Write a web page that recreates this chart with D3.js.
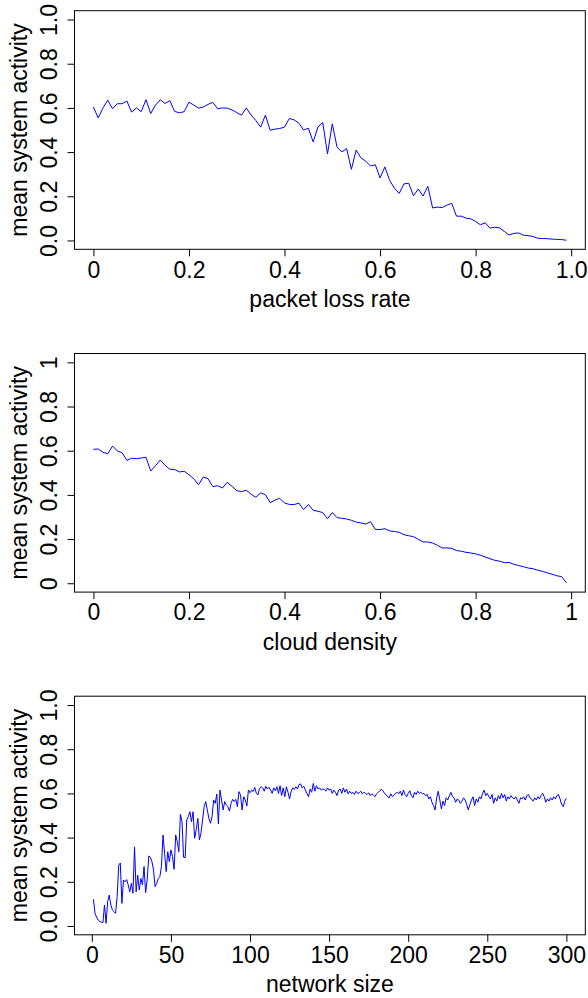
<!DOCTYPE html>
<html><head><meta charset="utf-8">
<script src="https://cdn.jsdelivr.net/npm/d3@7"></script>
<style>body{margin:0;background:#fff}svg{display:block}</style>
</head><body>
<script>
// ---------- data ----------
const lossRate = d3.range(100).map(i => i / 100);
const lossActivity = [
 0.604,0.555,0.600,0.635,0.596,0.619,0.619,0.631,0.581,0.600,
 0.583,0.637,0.575,0.613,0.637,0.620,0.633,0.584,0.578,0.583,
 0.626,0.613,0.599,0.604,0.616,0.625,0.596,0.600,0.599,0.591,
 0.579,0.567,0.600,0.568,0.543,0.513,0.567,0.499,0.504,0.507,
 0.513,0.552,0.546,0.531,0.500,0.508,0.446,0.514,0.534,0.392,
 0.528,0.422,0.401,0.416,0.322,0.409,0.374,0.359,0.337,0.343,
 0.283,0.333,0.272,0.237,0.213,0.256,0.259,0.202,0.233,0.201,
 0.245,0.147,0.151,0.149,0.160,0.168,0.110,0.110,0.101,0.098,
 0.086,0.071,0.080,0.056,0.060,0.057,0.041,0.025,0.032,0.034,
 0.024,0.022,0.018,0.010,0.009,0.008,0.006,0.005,0.004,0.001
];
const cloudDensity = d3.range(100).map(i => i / 100);
const densityActivity = [
 0.606,0.608,0.593,0.586,0.621,0.599,0.591,0.556,0.566,0.564,
 0.567,0.570,0.508,0.532,0.558,0.534,0.516,0.515,0.504,0.507,
 0.491,0.473,0.446,0.481,0.473,0.437,0.442,0.431,0.457,0.439,
 0.419,0.415,0.421,0.403,0.389,0.409,0.401,0.365,0.376,0.385,
 0.363,0.357,0.356,0.363,0.333,0.357,0.330,0.326,0.320,0.292,
 0.320,0.297,0.294,0.291,0.285,0.277,0.273,0.268,0.279,0.244,
 0.243,0.247,0.237,0.234,0.231,0.220,0.215,0.211,0.199,0.187,
 0.187,0.182,0.172,0.160,0.160,0.158,0.148,0.145,0.140,0.137,
 0.133,0.127,0.119,0.111,0.104,0.100,0.093,0.094,0.086,0.080,
 0.075,0.069,0.066,0.059,0.054,0.047,0.041,0.034,0.030,0.003
];
const networkSize = d3.range(1, 301);
const sizeActivity = [
 0.121,0.057,0.040,0.027,0.020,0.017,0.015,0.095,0.012,0.110,
 0.140,0.095,0.072,0.065,0.057,0.133,0.275,0.285,0.102,0.208,
 0.200,0.210,0.186,0.155,0.193,0.148,0.358,0.155,0.230,0.163,
 0.215,0.186,0.269,0.151,0.208,0.317,0.311,0.291,0.253,0.178,
 0.193,0.215,0.223,0.269,0.412,0.329,0.246,0.336,0.291,0.344,
 0.314,0.256,0.412,0.382,0.336,0.505,0.472,0.311,0.309,0.480,
 0.495,0.517,0.472,0.517,0.397,0.435,0.487,0.389,0.420,0.480,
 0.540,0.563,0.525,0.487,0.465,0.495,0.570,0.555,0.597,0.462,
 0.615,0.570,0.525,0.563,0.548,0.540,0.520,0.555,0.573,0.563,
 0.573,0.540,0.608,0.593,0.525,0.585,0.570,0.543,0.615,0.603,
 0.615,0.608,0.627,0.600,0.593,0.623,0.630,0.625,0.610,0.632,
 0.620,0.628,0.615,0.600,0.625,0.612,0.630,0.600,0.635,0.590,
 0.625,0.585,0.630,0.605,0.575,0.610,0.625,0.618,0.630,0.620,
 0.640,0.643,0.625,0.632,0.615,0.600,0.585,0.620,0.605,0.645,
 0.610,0.635,0.620,0.625,0.615,0.620,0.618,0.610,0.625,0.615,
 0.620,0.600,0.615,0.605,0.590,0.615,0.620,0.600,0.625,0.605,
 0.620,0.598,0.610,0.600,0.605,0.595,0.610,0.600,0.603,0.610,
 0.598,0.605,0.600,0.595,0.603,0.590,0.598,0.592,0.585,0.598,
 0.605,0.610,0.620,0.612,0.600,0.595,0.585,0.580,0.598,0.585,
 0.592,0.600,0.605,0.598,0.610,0.590,0.615,0.595,0.585,0.600,
 0.612,0.590,0.580,0.605,0.595,0.610,0.600,0.605,0.598,0.600,
 0.590,0.595,0.575,0.585,0.560,0.545,0.525,0.580,0.610,0.570,
 0.530,0.565,0.545,0.580,0.570,0.590,0.605,0.585,0.580,0.560,
 0.575,0.570,0.555,0.565,0.580,0.570,0.550,0.525,0.550,0.570,
 0.585,0.545,0.575,0.560,0.585,0.575,0.600,0.615,0.590,0.600,
 0.585,0.575,0.595,0.555,0.580,0.565,0.590,0.575,0.600,0.580,
 0.595,0.565,0.585,0.575,0.590,0.580,0.575,0.585,0.570,0.555,
 0.580,0.575,0.585,0.570,0.590,0.595,0.580,0.575,0.565,0.580,
 0.570,0.585,0.575,0.590,0.600,0.585,0.560,0.575,0.565,0.580,
 0.570,0.585,0.575,0.590,0.595,0.575,0.550,0.540,0.565,0.578
];

const unitTicks = [0, 0.2, 0.4, 0.6, 0.8, 1];
const sizeTicks = [0, 50, 100, 150, 200, 250, 300];
const lossXLabels = ["0", "0.2", "0.4", "0.6", "0.8", "1.0"];
const densityXLabels = ["0", "0.2", "0.4", "0.6", "0.8", "1"];
const sizeXLabels = ["0", "50", "100", "150", "200", "250", "300"];
const yLabelsDecimal = ["0.0", "0.2", "0.4", "0.6", "0.8", "1.0"];
const yLabelsPlain = ["0", "0.2", "0.4", "0.6", "0.8", "1"];
const yTitle = "mean system activity";

// ---------- layout ----------
const W = 588, H = 998;
const LEFT = 74.5, RIGHT = 585.3, BOXH = 238.6;
const FONT = "'Liberation Sans', Arial, Helvetica, sans-serif";
const FS = 23;

const panels = [
  {x: lossRate, y: lossActivity, top: 10.7, xTicks: unitTicks, xLabels: lossXLabels, yLabels: yLabelsDecimal, xTitle: "packet loss rate"},
  {x: cloudDensity, y: densityActivity, top: 353.5, xTicks: unitTicks, xLabels: densityXLabels, yLabels: yLabelsPlain, xTitle: "cloud density"},
  {x: networkSize, y: sizeActivity, top: 696.2, xTicks: sizeTicks, xLabels: sizeXLabels, yLabels: yLabelsDecimal, xTitle: "network size"}
];

const svg = d3.select("body").append("svg").attr("width", W).attr("height", H)
  .style("font-family", FONT);

panels.forEach(p => {
  const bottom = p.top + BOXH;
  const [xmin, xmax] = d3.extent(p.x);
  const pad = 0.04 * (xmax - xmin);
  const xs = d3.scaleLinear().domain([xmin - pad, xmax + pad]).range([LEFT, RIGHT]);
  const ys = d3.scaleLinear().domain([-0.04, 1.04]).range([bottom, p.top]);
  const g = svg.append("g");

  // data line
  const pts = p.x.map((v, i) => [v, p.y[i]]);
  g.append("path").datum(pts)
    .attr("fill", "none").attr("stroke", "#0000ff").attr("stroke-width", 1)
    .attr("stroke-linejoin", "round")
    .attr("d", d3.line().x(d => xs(d[0])).y(d => ys(d[1])));

  // box
  g.append("rect").attr("x", LEFT).attr("y", p.top)
    .attr("width", RIGHT - LEFT).attr("height", BOXH)
    .attr("fill", "none").attr("stroke", "#000").attr("stroke-width", 1);

  // x axis
  const xa = g.append("g").attr("transform", `translate(0,${bottom})`)
    .call(d3.axisBottom(xs).tickValues(p.xTicks).tickFormat((d, i) => p.xLabels[i])
      .tickSize(7).tickSizeOuter(0));
  xa.select(".domain").remove();
  xa.selectAll("line").attr("stroke", "#000");
  xa.selectAll("text").attr("y", 28.3).attr("dy", null)
    .style("font-size", FS + "px").style("font-family", FONT).attr("fill", "#000");

  // y axis
  const ya = g.append("g").attr("transform", `translate(${LEFT},0)`)
    .call(d3.axisLeft(ys).tickValues(unitTicks).tickFormat((d, i) => p.yLabels[i])
      .tickSize(7).tickSizeOuter(0));
  ya.select(".domain").remove();
  ya.selectAll("line").attr("stroke", "#000");
  ya.selectAll("text").attr("transform", "rotate(-90)")
    .attr("x", 0).attr("y", -18).attr("dy", null)
    .attr("text-anchor", "middle")
    .style("font-size", FS + "px").style("font-family", FONT).attr("fill", "#000");

  // titles
  g.append("text").attr("x", (LEFT + RIGHT) / 2).attr("y", bottom + 57.5)
    .attr("text-anchor", "middle").style("font-size", FS + "px").text(p.xTitle);
  g.append("text")
    .attr("transform", `translate(27,${(p.top + bottom) / 2}) rotate(-90)`)
    .attr("text-anchor", "middle").style("font-size", FS + "px").text(yTitle);
});
</script>
</body></html>
